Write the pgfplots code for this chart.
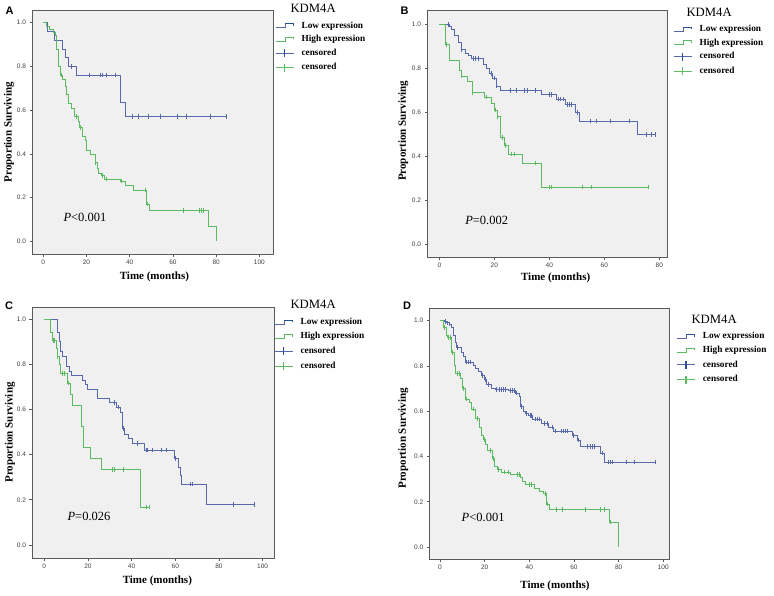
\documentclass[border=0pt]{standalone}
\usepackage{fontspec}
\setmainfont{Liberation Serif}
\newfontfamily\arialf{Liberation Sans}
\usepackage{pgfplots}
\pgfplotsset{compat=1.18}
\definecolor{kmblue}{RGB}{88,104,172}
\definecolor{kmbluedk}{RGB}{40,80,150}
\definecolor{kmgreen}{RGB}{92,186,98}
\definecolor{kmbg}{RGB}{240,240,240}
\definecolor{kmframe}{RGB}{90,90,90}
\pgfplotsset{
  km/.style={
    scale only axis,
    clip mode=individual,
    axis background/.style={fill=kmbg},
    axis line style={kmframe, line width=0.8pt},
    tick align=outside,
    xtick pos=bottom, ytick pos=left,
    major tick length=2.5pt,
    tick style={kmframe, line width=0.6pt},
    ytick={0,0.2,0.4,0.6,0.8,1},
    yticklabel style={/pgf/number format/fixed, /pgf/number format/fixed zerofill, /pgf/number format/precision=1},
    /pgf/number format/assume math mode=true,
    ticklabel style={font=\arialf\fontsize{6.5}{7}\selectfont, text=black!75},
    every axis y label/.style={rotate=90, anchor=center, font=\bfseries\fontsize{11}{12}\selectfont},
    every axis x label/.style={anchor=center, font=\bfseries\fontsize{11}{12}\selectfont},
    xlabel={Time (months)}, ylabel={Proportion Surviving},
    legend cell align=left,
    legend style={draw=none, fill=none, inner sep=0pt, outer sep=0pt, row sep=5pt,
      font=\bfseries\fontsize{9.3}{10}\selectfont,
      nodes={inner sep=0pt, text height=6.5pt, text depth=2pt}},
  },
  legLow/.style={legend image code/.code={\draw[draw=kmblue, line width=1.1pt] (0pt,-1.8pt) -- (9.5pt,-1.8pt) -- (9.5pt,2.2pt) -- (17.5pt,2.2pt) -- (17.5pt,0pt); \draw[draw=kmbluedk, line width=1.1pt] (9.5pt,2.2pt) -- (17.5pt,2.2pt) -- (17.5pt,0pt); \path[draw=none, fill=none] (0pt,0pt) -- (26pt,0pt);}},
  legHigh/.style={legend image code/.code={\draw[draw=kmgreen, line width=1.1pt] (0pt,-1.8pt) -- (9.5pt,-1.8pt) -- (9.5pt,2.2pt) -- (17.5pt,2.2pt) -- (17.5pt,0pt); \path[draw=none, fill=none] (0pt,0pt) -- (26pt,0pt);}},
  legCB/.style={legend image code/.code={\draw[draw=kmblue, line width=1.1pt] (0pt,0pt) -- (18pt,0pt); \draw[draw=kmbluedk, line width=1.4pt] (9pt,-4pt) -- (9pt,4pt); \path[draw=none, fill=none] (0pt,0pt) -- (26pt,0pt);}},
  legCG/.style={legend image code/.code={\draw[draw=kmgreen, line width=1.1pt] (0pt,0pt) -- (18pt,0pt); \draw[draw=kmgreen, line width=1.4pt] (9pt,-4pt) -- (9pt,4pt); \path[draw=none, fill=none] (0pt,0pt) -- (26pt,0pt);}},
  stepB/.style={const plot, draw=kmblue, line width=0.7pt, forget plot},
  stepG/.style={const plot, draw=kmgreen, line width=0.7pt, forget plot},
  censB/.style={only marks, mark=|, mark size=2.3pt, kmblue, mark options={draw=kmblue, line width=0.7pt}, forget plot},
  censG/.style={only marks, mark=|, mark size=2.3pt, kmgreen, mark options={draw=kmgreen, line width=0.7pt}, forget plot},
}
\newcommand{\kmlegend}{%
  \addlegendimage{legLow}\addlegendentry{Low expression}
  \addlegendimage{legHigh}\addlegendentry{High expression}
  \addlegendimage{legCB}\addlegendentry{censored}
  \addlegendimage{legCG}\addlegendentry{censored}}
\begin{document}
\begin{tikzpicture}
\useasboundingbox (0pt,0pt) rectangle (774pt,-595pt);
% ---------------- A ----------------
\begin{axis}[km, at={(32pt,-254pt)}, anchor=south west, width=241pt, height=244pt,
  xmin=-5.2, xmax=106.3, ymin=-0.058, ymax=1.058, xtick={0,20,40,60,80,100},
  xlabel style={at={(axis description cs:0.508,-0.094)}},
  ylabel style={at={(axis description cs:-0.095,0.5)}},
  legend style={at={(1,1)}, anchor=north west, xshift=2pt, yshift=-11.5pt}]
\addplot[stepB] coordinates {(0,1)(2,0.96)(5,0.92)(9,0.88)(10.4,0.84)(11.5,0.80)(15.3,0.76)(35.8,0.634)(38.1,0.57)(84.6,0.57)};
\addplot[stepG] coordinates {(0,1)(1.5,0.985)(3,0.97)(4.5,0.955)(5.5,0.94)(6,0.88)(6.8,0.84)(7.2,0.80)(7.8,0.76)(9,0.74)(10,0.71)(10.8,0.67)(11.8,0.63)(13,0.61)(14.2,0.57)(16.2,0.55)(16.8,0.52)(18,0.48)(19.3,0.46)(20,0.415)(22,0.40)(24,0.36)(25,0.335)(25.6,0.31)(27,0.30)(28.5,0.285)(35.5,0.275)(37.8,0.255)(41.7,0.235)(47.8,0.17)(49,0.14)(76.4,0.07)(80.2,0)};
\addplot[censB] coordinates {(13,0.80)(21.2,0.76)(26.4,0.76)(27.3,0.76)(29.2,0.76)(33.2,0.76)(41.2,0.57)(44.1,0.57)(48.4,0.57)(54.3,0.57)(62.2,0.57)(66.2,0.57)(77.2,0.57)(84.6,0.57)};
\addplot[censG] coordinates {(8.3,0.76)(15.3,0.57)(17.1,0.52)(24.3,0.36)(27.3,0.30)(29.2,0.285)(36.1,0.275)(47.2,0.235)(48.1,0.17)(65,0.14)(72,0.14)(73.3,0.14)(74.3,0.14)};
\kmlegend
\node[anchor=west, xshift=14pt, yshift=1.5pt, font=\fontsize{12.7}{14}\selectfont] at (rel axis cs:1,1) {KDM4A};
\node[font=\fontsize{12.5}{14}\selectfont] at (axis cs:19.3,0.107) {\textit{P}<0.001};
\end{axis}
% ---------------- B ----------------
\begin{axis}[km, at={(427pt,-257pt)}, anchor=south west, width=240pt, height=247pt,
  xmin=-4.5, xmax=82.8, ymin=-0.058, ymax=1.065, xtick={0,20,40,60,80},
  xlabel style={at={(axis description cs:0.536,-0.086)}},
  ylabel style={at={(axis description cs:-0.099,0.511)}},
  legend style={at={(1,1)}, anchor=north west, xshift=6pt, yshift=-15pt}]
\addplot[stepB] coordinates {(0,1)(3.6,0.99)(4.5,0.975)(5.5,0.95)(7,0.92)(7.9,0.885)(9.3,0.87)(10.4,0.86)(11.5,0.845)(16,0.82)(17,0.80)(18,0.775)(19.4,0.755)(20.6,0.72)(22,0.70)(37,0.68)(42.5,0.66)(45.8,0.635)(49.6,0.598)(50.9,0.56)(72,0.50)(78.4,0.50)};
\addplot[stepG] coordinates {(0,1)(2.2,0.909)(3.8,0.836)(7.2,0.79)(7.9,0.765)(10.2,0.74)(12,0.69)(16.5,0.67)(19,0.64)(20,0.61)(21,0.58)(22,0.485)(23.6,0.45)(25,0.41)(30.2,0.37)(37.1,0.26)(76,0.26)};
\addplot[censB] coordinates {(3.2,1.0)(8.1,0.885)(12.4,0.845)(13.2,0.845)(14.1,0.845)(18.9,0.775)(19.9,0.755)(20.8,0.72)(25.9,0.70)(27.9,0.70)(31,0.70)(32,0.70)(34.8,0.70)(39.9,0.68)(40.8,0.68)(43.3,0.66)(44.1,0.66)(45,0.66)(46.5,0.635)(47.4,0.635)(48.1,0.635)(50.2,0.598)(55,0.56)(57.2,0.56)(62.3,0.56)(69,0.56)(75.4,0.50)(77,0.50)(78.4,0.50)};
\addplot[censG] coordinates {(2.6,0.909)(8,0.765)(12,0.69)(17.2,0.67)(20.2,0.61)(21,0.58)(22.9,0.485)(24,0.45)(26.2,0.41)(27.2,0.41)(35,0.37)(39.9,0.26)(40.8,0.26)(52,0.26)(55.2,0.26)(76,0.26)};
\kmlegend
\node[anchor=west, xshift=16pt, yshift=-2.3pt, font=\fontsize{12.7}{14}\selectfont] at (rel axis cs:1,1) {KDM4A};
\node[font=\fontsize{12.5}{14}\selectfont] at (axis cs:17.2,0.11) {\textit{P}=0.002};
\end{axis}
% ---------------- C ----------------
\begin{axis}[km, at={(32pt,-558.3pt)}, anchor=south west, width=242pt, height=250.6pt,
  xmin=-5.6, xmax=105.2, ymin=-0.059, ymax=1.05, xtick={0,20,40,60,80,100},
  xlabel style={at={(axis description cs:0.518,-0.09)}},
  ylabel style={at={(axis description cs:-0.091,0.502)}},
  legend style={at={(1,1)}, anchor=north west, xshift=0pt, yshift=-10.4pt, row sep=5.7pt}]
\addplot[stepB] coordinates {(0,1)(6,0.94)(6.9,0.90)(7.2,0.855)(8.2,0.833)(9.9,0.79)(11.5,0.77)(12.5,0.75)(17.6,0.73)(18.6,0.71)(19.8,0.69)(24.2,0.65)(30,0.63)(33.2,0.61)(35,0.585)(35.6,0.515)(36.8,0.49)(38.5,0.47)(40.5,0.448)(45.8,0.42)(59.6,0.382)(61.5,0.345)(62.3,0.31)(63,0.27)(74,0.18)(96,0.18)};
\addplot[stepG] coordinates {(0,1)(2.9,0.94)(3.7,0.905)(5.5,0.87)(6,0.835)(6.9,0.80)(7.5,0.76)(10.5,0.716)(12,0.668)(12.8,0.62)(16.8,0.525)(17.7,0.43)(21,0.382)(26,0.335)(44,0.168)(47.9,0.168)};
\addplot[censB] coordinates {(32,0.63)(34,0.61)(36.3,0.515)(42.7,0.448)(46.6,0.42)(47.4,0.42)(49.6,0.42)(53.8,0.42)(55.8,0.42)(59.9,0.382)(66.7,0.27)(67.8,0.27)(86.7,0.18)(96,0.18)};
\addplot[censG] coordinates {(4,0.905)(4.8,0.905)(6.1,0.835)(8.1,0.76)(9,0.76)(11,0.716)(31,0.335)(31.9,0.335)(36,0.335)(46.7,0.168)(47.9,0.168)};
\kmlegend
\node[anchor=west, xshift=13pt, yshift=3.4pt, font=\fontsize{12.7}{14}\selectfont] at (rel axis cs:1,1) {KDM4A};
\node[font=\fontsize{12.5}{14}\selectfont] at (axis cs:20.5,0.125) {\textit{P}=0.026};
\end{axis}
% ---------------- D ----------------
\begin{axis}[km, at={(429.3pt,-559.3pt)}, anchor=south west, width=240pt, height=251pt,
  xmin=-4.8, xmax=102.7, ymin=-0.054, ymax=1.054, xtick={0,20,40,60,80,100},
  xlabel style={at={(axis description cs:0.524,-0.106)}},
  ylabel style={at={(axis description cs:-0.108,0.482)}},
  legend style={at={(1,1)}, anchor=north west, xshift=7pt, yshift=-24pt, row sep=5.4pt}]
\addplot[stepB] coordinates {(0,1)(2,0.995)(3,0.99)(4,0.985)(4.9,0.97)(6,0.935)(6.7,0.905)(7.3,0.88)(9.4,0.86)(10.4,0.84)(11.5,0.817)(14.9,0.80)(16,0.79)(17.2,0.776)(18.7,0.758)(19.9,0.74)(20.6,0.717)(23,0.702)(25,0.695)(30.5,0.69)(33.9,0.68)(35.4,0.665)(36.2,0.62)(37.2,0.60)(38.2,0.59)(39.5,0.58)(41.5,0.565)(45.4,0.545)(48.5,0.53)(50.6,0.513)(59.3,0.493)(61.5,0.473)(63,0.445)(71.6,0.415)(73.4,0.375)(96.3,0.375)};
\addplot[stepG] coordinates {(0,1)(1.5,0.97)(2.8,0.935)(3.3,0.925)(5.2,0.86)(6.5,0.80)(7,0.766)(9,0.745)(10.2,0.70)(11.2,0.653)(13.2,0.64)(14.1,0.61)(16,0.567)(17.4,0.53)(18.5,0.495)(19.3,0.475)(20.3,0.455)(21.4,0.427)(23.3,0.39)(24.5,0.358)(25.5,0.342)(27.3,0.332)(31.5,0.321)(36,0.31)(37,0.29)(38,0.275)(42.3,0.258)(44.7,0.248)(46.2,0.236)(47.7,0.19)(48.8,0.166)(75.8,0.11)(79.9,0)};
\addplot[censB] coordinates {(2.2,0.995)(3.3,0.99)(4,0.985)(7.9,0.88)(11.9,0.817)(12.7,0.817)(13.5,0.817)(19,0.758)(20.4,0.74)(21.5,0.717)(25.4,0.695)(26.4,0.695)(27.3,0.695)(28.4,0.695)(29.4,0.695)(31.3,0.69)(32.4,0.69)(33.3,0.69)(34.3,0.68)(36.4,0.62)(38.8,0.59)(40.3,0.58)(41,0.58)(42.5,0.565)(43.4,0.565)(44.3,0.565)(46.9,0.545)(48,0.545)(50.1,0.53)(51.5,0.513)(54.2,0.513)(55.2,0.513)(56.3,0.513)(57.2,0.513)(59.7,0.493)(62.1,0.473)(66.1,0.445)(67.2,0.445)(68.2,0.445)(69.1,0.445)(72.7,0.415)(75.4,0.375)(76.4,0.375)(77.3,0.375)(83.6,0.375)(87,0.375)(96.3,0.375)};
\addplot[censG] coordinates {(1.9,0.97)(3.7,0.925)(4.8,0.925)(5.5,0.86)(7.9,0.766)(8.6,0.766)(10.6,0.70)(12,0.653)(14.9,0.61)(16.7,0.567)(19.9,0.475)(22.4,0.427)(23.7,0.39)(26.1,0.342)(28.8,0.332)(30.4,0.332)(34.8,0.321)(35.6,0.321)(39.9,0.275)(40.7,0.275)(47,0.236)(48,0.19)(52.2,0.166)(54.8,0.166)(65.2,0.166)(71.9,0.166)(73.6,0.166)(76.1,0.11)};
\kmlegend
\node[anchor=west, xshift=18.7pt, yshift=-11pt, font=\fontsize{12.7}{14}\selectfont] at (rel axis cs:1,1) {KDM4A};
\node[font=\fontsize{12.5}{14}\selectfont] at (axis cs:19.3,0.13) {\textit{P}<0.001};
\end{axis}
% panel letters
\node[font=\arialf\bfseries\fontsize{11}{12}\selectfont] at (9.5pt,-11pt) {A};
\node[font=\arialf\bfseries\fontsize{11}{12}\selectfont] at (404.5pt,-11pt) {B};
\node[font=\arialf\bfseries\fontsize{11}{12}\selectfont] at (9pt,-306pt) {C};
\node[font=\arialf\bfseries\fontsize{11}{12}\selectfont] at (407pt,-306pt) {D};
\end{tikzpicture}
\end{document}
